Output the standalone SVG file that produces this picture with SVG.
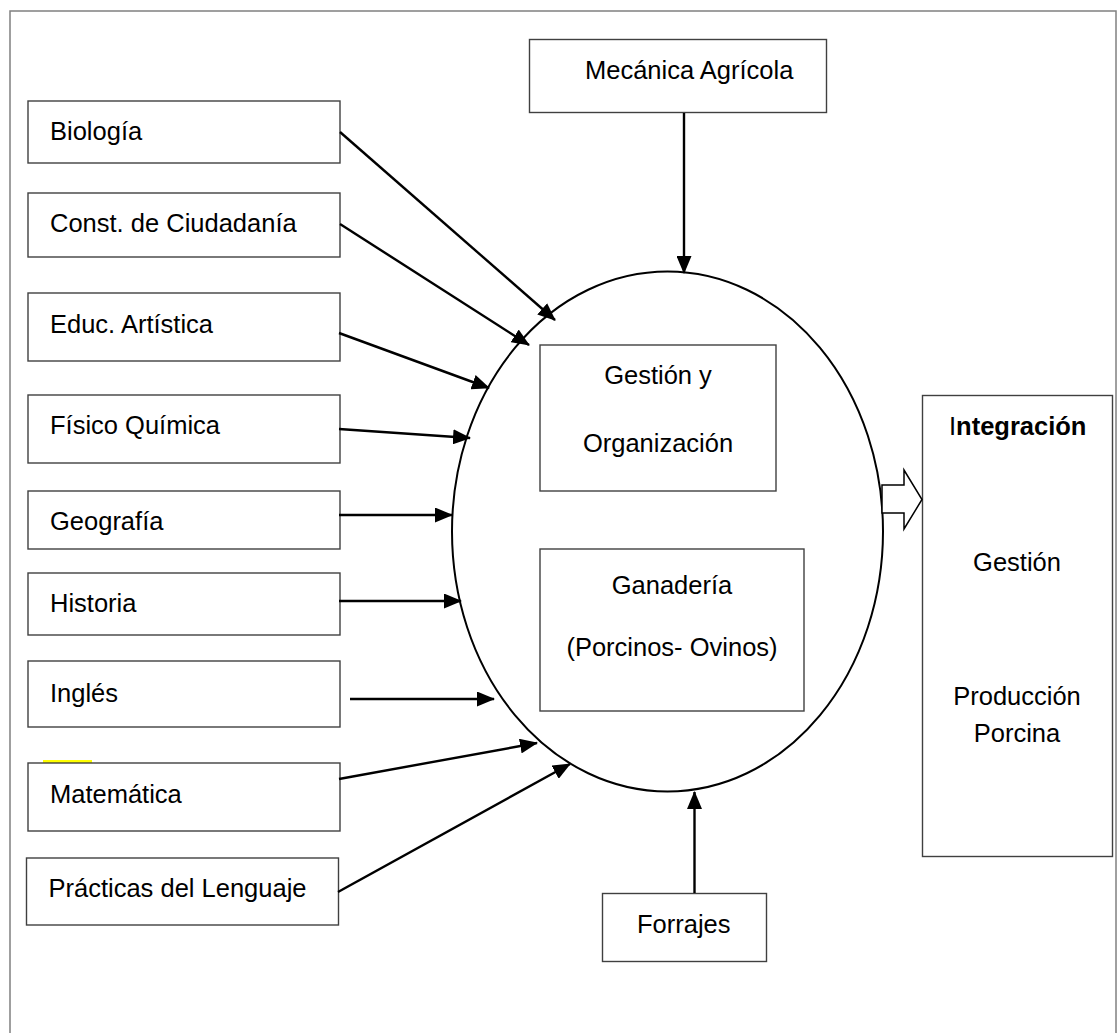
<svg xmlns="http://www.w3.org/2000/svg" width="1118" height="1033" viewBox="0 0 1118 1033">
<style>
  .box { fill: #fff; stroke: #404040; stroke-width: 1.4; }
  .t { font-family: "Liberation Sans", Arial, sans-serif; font-size: 25.5px; fill: #000; }
  .c { text-anchor: middle; }
  .conn { stroke: #000; stroke-width: 2.4; fill: none; marker-end: url(#ah); }
</style>
<defs>
  <marker id="ah" viewBox="0 0 18 15" refX="17" refY="7.5" markerWidth="18" markerHeight="15" markerUnits="userSpaceOnUse" orient="auto">
    <path d="M0,0 L18,7.5 L0,15 Z" fill="#000"/>
  </marker>
</defs>
<rect width="1118" height="1033" fill="#fff"/>
<rect x="10" y="11" width="1106" height="1040" fill="none" stroke="#808080" stroke-width="1.5"/>

<g id="ellipse-center">
  <ellipse cx="667.5" cy="531.5" rx="215.5" ry="260" fill="none" stroke="#000" stroke-width="2"/>
</g>

<g id="biologia"><rect class="box" x="28" y="101" width="312" height="62"/><text class="t" x="50" y="140">Biología</text></g>
<g id="ciudadania"><rect class="box" x="28" y="193" width="312" height="64"/><text class="t" x="50" y="232">Const. de Ciudadanía</text></g>
<g id="artistica"><rect class="box" x="28" y="293" width="312" height="68"/><text class="t" x="50" y="333">Educ. Artística</text></g>
<g id="fisicoquimica"><rect class="box" x="28" y="395" width="312" height="68"/><text class="t" x="50" y="434">Físico Química</text></g>
<g id="geografia"><rect class="box" x="28" y="491" width="312" height="58"/><text class="t" x="50" y="530">Geografía</text></g>
<g id="historia"><rect class="box" x="28" y="573" width="312" height="62"/><text class="t" x="50" y="612">Historia</text></g>
<g id="ingles"><rect class="box" x="28" y="661" width="312" height="66"/><text class="t" x="50" y="702">Inglés</text></g>
<g id="matematica"><rect x="43" y="760" width="49" height="3" fill="#ffff00"/><rect class="box" x="28" y="763" width="312" height="68"/><text class="t" x="50" y="803">Matemática</text></g>
<g id="lenguaje"><rect class="box" x="26.5" y="858" width="312" height="67"/><text class="t" x="48.5" y="897">Prácticas del Lenguaje</text></g>

<g id="mecanica"><rect class="box" x="529.5" y="39.5" width="297" height="73"/><text class="t" x="585" y="79">Mecánica Agrícola</text></g>
<g id="forrajes"><rect class="box" x="602.5" y="893.5" width="164" height="68"/><text class="t" x="637" y="933">Forrajes</text></g>

<g id="gestion-organizacion"><rect class="box" x="540" y="345" width="236" height="146"/><text class="t c" x="658" y="384">Gestión y</text><text class="t c" x="658" y="452">Organización</text></g>
<g id="ganaderia"><rect class="box" x="540" y="549" width="264" height="162"/><text class="t c" x="672" y="594">Ganadería</text><text class="t c" x="672" y="656">(Porcinos- Ovinos)</text></g>

<g id="integracion"><rect class="box" x="922.5" y="395.5" width="190" height="461"/>
  <text class="t" x="949" y="435">I<tspan font-weight="bold">ntegración</tspan></text>
  <text class="t c" x="1017" y="571">Gestión</text>
  <text class="t c" x="1017" y="705">Producción</text>
  <text class="t c" x="1017" y="742">Porcina</text>
</g>

<g id="connectors">
  <line class="conn" x1="340" y1="132" x2="555" y2="320"/>
  <line class="conn" x1="340" y1="224" x2="529" y2="345"/>
  <line class="conn" x1="339" y1="333" x2="489" y2="388"/>
  <line class="conn" x1="339" y1="429" x2="470" y2="438"/>
  <line class="conn" x1="339" y1="515" x2="452" y2="515"/>
  <line class="conn" x1="339" y1="601" x2="461" y2="601"/>
  <line class="conn" x1="350" y1="699" x2="494" y2="699"/>
  <line class="conn" x1="339" y1="779" x2="537" y2="743"/>
  <line class="conn" x1="338" y1="892" x2="570" y2="764"/>
  <line class="conn" x1="684" y1="113" x2="684" y2="273"/>
  <line class="conn" x1="694.5" y1="893" x2="694.5" y2="792"/>
  <polygon points="882,485 904,485 904,470 922,499.5 904,529 904,513 882,513" fill="#fff" stroke="#000" stroke-width="1.5"/>
</g>
</svg>
